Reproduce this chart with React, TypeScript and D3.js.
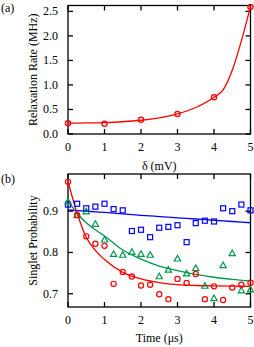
import React from 'react';
import * as d3 from 'd3';

// panel (a): relaxation rate vs detuning
const deltaMv = [0, 1, 2, 3, 4, 5];
const rateMhz = [0.22, 0.21, 0.29, 0.41, 0.75, 2.59];
const rateFitX = [0, 0.5, 1, 1.5, 2, 2.5, 3, 3.5, 4, 4.25, 4.5, 4.75, 5];
const rateFitY = [0.22, 0.225, 0.232, 0.25, 0.28, 0.33, 0.41, 0.54, 0.75, 0.9, 1.3, 1.9, 2.6];

// panel (b): singlet probability vs time
const timeUs = [0, 0.25, 0.5, 0.75, 1, 1.25, 1.5, 1.75, 2, 2.25, 2.5, 2.75, 3, 3.25, 3.5, 3.75, 4, 4.25, 4.5, 4.75, 5];
const blueP = [0.916, 0.918, 0.907, 0.911, 0.918, 0.905, 0.902, 0.852, 0.855, 0.837, 0.86, 0.862, 0.866, 0.825, 0.871, 0.877, 0.875, 0.907, 0.9, 0.916, 0.902];
const greenP = [0.923, 0.89, 0.899, 0.869, 0.831, 0.796, 0.794, 0.801, 0.796, 0.794, 0.742, 0.758, 0.785, 0.749, 0.762, 0.719, 0.689, 0.769, 0.798, 0.708, 0.71];
const redP = [0.971, 0.891, 0.839, 0.821, 0.816, 0.724, 0.753, 0.742, 0.72, 0.722, 0.699, 0.687, 0.736, 0.726, 0.748, 0.687, 0.718, 0.685, 0.715, 0.722, 0.727];

const fitT = [0, 0.25, 0.5, 0.75, 1, 1.5, 2, 2.5, 3, 3.5, 4, 4.5, 5];
const blueFit = [0.903, 0.9015, 0.9, 0.8985, 0.897, 0.8935, 0.89, 0.887, 0.884, 0.881, 0.878, 0.875, 0.872];
const greenFit = [0.925, 0.895, 0.872, 0.855, 0.84, 0.806, 0.784, 0.767, 0.756, 0.747, 0.74, 0.735, 0.731];
const redFit = [0.972, 0.895, 0.837, 0.805, 0.783, 0.752, 0.736, 0.727, 0.722, 0.72, 0.719, 0.7185, 0.718];

const xTicks = [0, 1, 2, 3, 4, 5];
const rateTicks = [0, 0.5, 1, 1.5, 2, 2.5];
const probTicks = [0.7, 0.8, 0.9];

const RED = '#ff0000';
const BLUE = '#0000ff';
const GREEN = '#00994d';
const FONT = '"Liberation Serif", "DejaVu Serif", serif';

const left = 68;
const right = 250.5;
const tickLen = 5;

function Frame({ x, y, yTicks, fmt }: { x: d3.ScaleLinear<number, number>; y: d3.ScaleLinear<number, number>; yTicks: number[]; fmt: (v: number) => string }) {
  const [x0, x1] = x.range();
  const [y0, y1] = y.range(); // y0 bottom, y1 top
  return (
    <g>
      {xTicks.map(t => (
        <g key={'x' + t}>
          <line x1={x(t)} x2={x(t)} y1={y0} y2={y0 - tickLen} stroke="#000" strokeWidth={1.3} />
          <line x1={x(t)} x2={x(t)} y1={y1} y2={y1 + tickLen} stroke="#000" strokeWidth={1.3} />
          <text x={x(t)} y={y0 + 17} textAnchor="middle" fontSize={12} fontFamily={FONT}>{t}</text>
        </g>
      ))}
      {yTicks.map(t => (
        <g key={'y' + t}>
          <line x1={x0} x2={x0 + tickLen} y1={y(t)} y2={y(t)} stroke="#000" strokeWidth={1.3} />
          <line x1={x1} x2={x1 - tickLen} y1={y(t)} y2={y(t)} stroke="#000" strokeWidth={1.3} />
          <text x={x0 - 10} y={y(t) + 4} textAnchor="end" fontSize={12} fontFamily={FONT}>{fmt(t)}</text>
        </g>
      ))}
      <rect x={x0} y={y1} width={x1 - x0} height={y0 - y1} fill="none" stroke="#000" strokeWidth={1.3} />
    </g>
  );
}

export default function App() {
  // panel (a)
  const xa = d3.scaleLinear().domain([0, 5]).range([left, right]);
  const ya = d3.scaleLinear().domain([0, 2.62]).range([134, 5.5]);
  // panel (b)
  const xb = d3.scaleLinear().domain([0, 5]).range([left, right]);
  const yb = d3.scaleLinear().domain([0.668, 0.99]).range([307, 174]);

  const lineA = d3.line<number>().x((_, i) => xa(rateFitX[i])).y(d => ya(d)).curve(d3.curveMonotoneX);
  const lineB = d3.line<number>().x((_, i) => xb(fitT[i])).y(d => yb(d)).curve(d3.curveMonotoneX);

  const tri = (cx: number, cy: number) => {
    const s = 3.3;
    return `M${cx},${cy - s}L${cx + s * 0.95},${cy + s * 0.7}L${cx - s * 0.95},${cy + s * 0.7}Z`;
  };

  return (
    <svg width={254} height={347} style={{ position: 'absolute', left: 0, top: 0, background: '#fff' }}>
      <rect width={254} height={347} fill="#fff" />

      {/* (a) */}
      <text x={1} y={12} fontSize={12} fontFamily={FONT}>(a)</text>
      <Frame x={xa} y={ya} yTicks={rateTicks} fmt={v => v.toFixed(1)} />
      <path d={lineA(rateFitY) || ''} fill="none" stroke={RED} strokeWidth={1.3} />
      {deltaMv.map((d, i) => (
        <circle key={i} cx={xa(d)} cy={ya(rateMhz[i])} r={2.6} fill="none" stroke={RED} strokeWidth={1.3} />
      ))}
      <text x={(left + right) / 2} y={170} textAnchor="middle" fontSize={12} fontFamily={FONT}>δ (mV)</text>
      <text transform={`translate(37,${(134 + 5.5) / 2}) rotate(-90)`} textAnchor="middle" fontSize={12} fontFamily={FONT}>Relaxation Rate (MHz)</text>

      {/* (b) */}
      <text x={1} y={183} fontSize={12} fontFamily={FONT}>(b)</text>
      <Frame x={xb} y={yb} yTicks={probTicks} fmt={v => v.toFixed(1)} />
      <path d={lineB(blueFit) || ''} fill="none" stroke={BLUE} strokeWidth={1.3} />
      <path d={lineB(greenFit) || ''} fill="none" stroke={GREEN} strokeWidth={1.3} />
      <path d={lineB(redFit) || ''} fill="none" stroke={RED} strokeWidth={1.3} />
      {timeUs.map((t, i) => (
        <rect key={'b' + i} x={xb(t) - 2.5} y={yb(blueP[i]) - 2.5} width={5} height={5} fill="none" stroke={BLUE} strokeWidth={1.2} />
      ))}
      {timeUs.map((t, i) => (
        <path key={'g' + i} d={tri(xb(t), yb(greenP[i]))} fill="none" stroke={GREEN} strokeWidth={1.2} />
      ))}
      {timeUs.map((t, i) => (
        <circle key={'r' + i} cx={xb(t)} cy={yb(redP[i])} r={2.6} fill="none" stroke={RED} strokeWidth={1.2} />
      ))}
      <text x={(left + right) / 2} y={342} textAnchor="middle" fontSize={12} fontFamily={FONT}>Time (μs)</text>
      <text transform={`translate(37,${(307 + 174) / 2}) rotate(-90)`} textAnchor="middle" fontSize={12} fontFamily={FONT}>Singlet Probability</text>
    </svg>
  );
}
